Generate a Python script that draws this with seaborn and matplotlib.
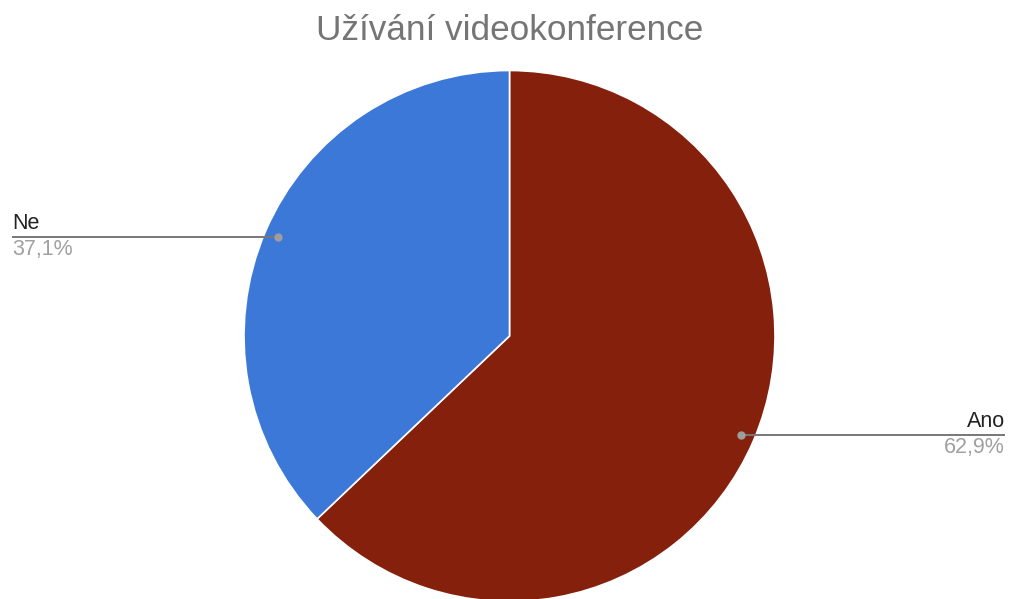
import numpy as np
import matplotlib
matplotlib.use("Agg")
import matplotlib.pyplot as plt
import seaborn as sns

labels = ["Ano", "Ne"]
values = [62.9, 37.1]
pct_text = ["62,9%", "37,1%"]
colors = ["#85200c", "#3c78d8"]
title = "Užívání videokonference"

sns.set_theme(style="white")
plt.rcParams['font.family'] = ['Liberation Sans', 'DejaVu Sans']

W, H = 1010, 599
fig = plt.figure(figsize=(W / 100, H / 100), dpi=100)
ax = fig.add_axes([0, 0, 1, 1])

wedges, _ = ax.pie(values, colors=colors, startangle=90, counterclock=False,
                   radius=1, wedgeprops=dict(edgecolor="white", linewidth=1.2))

# pie geometry in pixels (set after pie, which resets limits)
cx, cy, r = 509.5, 263.0, 265.5
ax.set_xlim(-cx / r, (W - cx) / r)
ax.set_ylim(-cy / r, (H - cy) / r)
ax.set_aspect("auto")
ax.axis("off")

x_left = 12 / r - cx / r
x_right = (1005 - cx) / r
for w, lab, pt in zip(wedges, labels, pct_text):
    ang = np.deg2rad((w.theta1 + w.theta2) / 2)
    px, py = 0.95 * np.cos(ang), 0.95 * np.sin(ang)
    if px < 0:
        xe, ha = x_left, "left"
    else:
        xe, ha = x_right, "right"
    ax.plot([px, xe], [py, py], color="#777777", lw=1.4, solid_capstyle="butt", zorder=3)
    ax.plot(px, py, "o", color="#9e9e9e", ms=5, zorder=4)
    ax.text(xe, py + 3 / r, lab, ha=ha, va="bottom", fontsize=15.5, color="#222222")
    ax.text(xe, py - 2 / r, pt, ha=ha, va="top", fontsize=15.5, color="#a0a0a0")

fig.text(0.5045, 1 - 31 / H, title, ha="center", va="center", fontsize=25.3, color="#757575")

fig.savefig("out.png", dpi=100)
